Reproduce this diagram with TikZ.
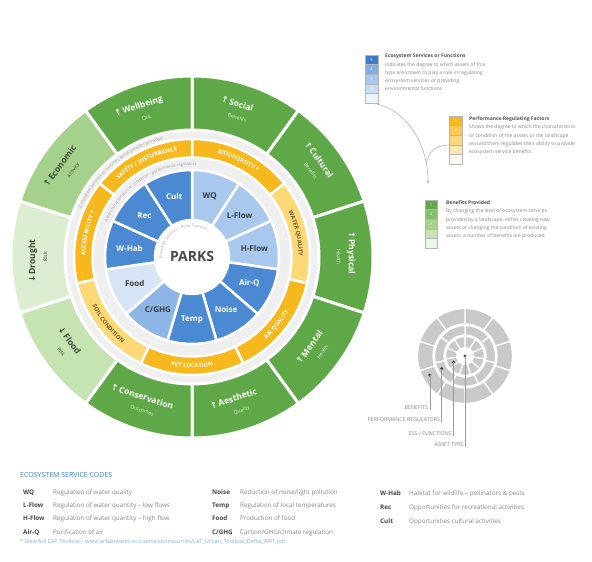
\documentclass[tikz,border=0pt]{standalone}
\usepackage{fontspec}
\setmainfont{Open Sans}
\newfontfamily\arrowfont{DejaVu Sans}
\usetikzlibrary{calc,decorations.text,arrows.meta}
\definecolor{gdark}{HTML}{5FA847}
\definecolor{gmid}{HTML}{A5D18C}
\definecolor{glight}{HTML}{C6E3B2}
\definecolor{gpale}{HTML}{DDEDD1}
\definecolor{gsubc}{HTML}{E2F1DA}
\definecolor{gtxt}{HTML}{3A4A35}
\definecolor{ydark}{HTML}{F6B81C}
\definecolor{ylight}{HTML}{FDD877}
\definecolor{ytxt}{HTML}{6B5A2A}
\definecolor{bmed}{HTML}{4B8AD2}
\definecolor{blight}{HTML}{A8C8EE}
\definecolor{bcg}{HTML}{8DB6E6}
\definecolor{bpale}{HTML}{D6E4F5}
\definecolor{btxt}{HTML}{3C3C3C}
\definecolor{ringgray}{HTML}{EFEFEF}
\definecolor{ringtext}{HTML}{A0A0A0}
\definecolor{parkc}{HTML}{474747}
\definecolor{legblue}{HTML}{3B7DC4}
\definecolor{footblue}{HTML}{86B2DC}
\definecolor{desc}{HTML}{858585}
\definecolor{codec}{HTML}{454545}
\definecolor{ttl}{HTML}{505050}
\definecolor{mini}{HTML}{C9C9C9}
\definecolor{dotc}{HTML}{4A4A4A}
\definecolor{leadc}{HTML}{9A9A9A}
\definecolor{connc}{HTML}{BDBDBD}
\definecolor{boxline}{HTML}{B5B5B5}
\definecolor{bs1}{HTML}{3D7CC9}\definecolor{bs2}{HTML}{7FAEE3}\definecolor{bs3}{HTML}{A8C8EE}\definecolor{bs4}{HTML}{C8DCF3}\definecolor{bs5}{HTML}{EEF3FA}
\definecolor{ys1}{HTML}{F6B81C}\definecolor{ys2}{HTML}{F9C84E}\definecolor{ys3}{HTML}{FBD77E}\definecolor{ys4}{HTML}{FCE6B0}\definecolor{ys5}{HTML}{FAF8F2}
\definecolor{gs1}{HTML}{5FA847}\definecolor{gs2}{HTML}{86BE6B}\definecolor{gs3}{HTML}{A8D08F}\definecolor{gs4}{HTML}{C8E2B6}\definecolor{gs5}{HTML}{EEF5EA}

\newcommand\annsec[6]{\path[#1] ($(#2)+(#5:#4)$) arc[start angle=#5,end angle=#6,radius=#4] -- ($(#2)+(#6:#3)$) arc[start angle=#6,end angle=#5,radius=#3] -- cycle;}
\newcommand\curvetext[6]{\path[decorate,decoration={text along path,text color=#5,text align=center,text={#6}}] ($(#1)+(#3:#2)$) arc[start angle=#3,end angle=#4,radius=#2];}
\newcommand\glabfont{\fontsize{8.5}{9.5}\selectfont\bfseries}
\newcommand\gsubfont{\fontsize{5}{6}\selectfont}
\newcommand\ylab{\fontsize{5.8}{6}\selectfont\bfseries}
\newcommand\blab{\fontsize{8}{9}\selectfont\bfseries}
\newcommand\rtext{\fontsize{4.3}{5}\selectfont}
\newcommand\gseg[9]{%
  \annsec{fill=#3,draw=white,line width=3pt}{C}{127}{181}{#1-18}{#1+18}
  \node[glabel,rotate=#2,text=#4] (#9) at ($(C)+(#1:154)$) {{\glabfont\llap{{\arrowfont\bfseries #6}\,}#7}\\{\gsubfont\color{#5}#8}};}
\newcommand\yseg[3]{\annsec{fill=#3,draw=white,line width=2.5pt}{C}{99.5}{118}{#1}{#2}}
\newcommand\bseg[5]{%
  \pgfmathsetmacro\bE{90-#1*360/11}%
  \pgfmathsetmacro\bS{\bE-360/11}%
  \pgfmathsetmacro\bM{\bE-180/11}%
  \annsec{fill=#2,draw=white,line width=2.5pt}{C}{37}{87}{\bS}{\bE}
  \node[text=#3,font=\blab,inner sep=0pt] (#5) at ($(C)+(\bM:63)$) {#4};}

\tikzset{
  glabel/.style={align=center,inner sep=0pt},
  lbox/.style={minimum width=12.5pt,minimum height=9.6pt,inner sep=0pt,draw=boxline,line width=0.4pt,font=\fontsize{3.5}{4}\selectfont,text=white},
  legtext/.style={anchor=north west,align=left,inner sep=0pt,font=\fontsize{5}{8.25}\selectfont,text=desc},
  conn/.style={draw=connc,line width=0.7pt},
  dotst/.style={circle,fill=dotc,inner sep=0pt,minimum size=3.4pt},
  leader/.style={draw=leadc,line width=0.5pt},
  minilab/.style={font=\fontsize{5.3}{6}\selectfont,text=desc,inner sep=0.6pt},
  ccode/.style={font=\fontsize{6.3}{7}\selectfont\bfseries,text=codec,anchor=base west,inner sep=0pt},
  cdesc/.style={font=\fontsize{6.3}{7}\selectfont,text=desc,anchor=base west,inner sep=0pt}
}

\begin{document}
\begin{tikzpicture}[x=1pt,y=1pt]
\useasboundingbox (0,0) rectangle (592,562);
\fill[white] (0,0) rectangle (592,562);
\coordinate (C) at (192,305);
\fill[ringgray,even odd rule] (C) circle[radius=129] (C) circle[radius=85];

% green benefits ring
\gseg{72}{-18}{gdark}{white}{gsubc}{↑}{Social}{Benefits}{gsocial}
\gseg{36}{-54}{gdark}{white}{gsubc}{↑}{Cultural}{Benefits}{gcultural}
\gseg{0}{-90}{gdark}{white}{gsubc}{↑}{Physical}{Health}{gphysical}
\gseg{-36}{54}{gdark}{white}{gsubc}{↑}{Mental}{Health}{gmental}
\gseg{-72}{18}{gdark}{white}{gsubc}{↑}{Aesthetic}{Quality}{gaesthetic}
\gseg{-108}{-18}{gdark}{white}{gsubc}{↑}{Conservation}{Outcomes}{gconservation}
\gseg{-144}{-54}{glight}{gtxt}{gtxt}{↓}{Flood}{Risk}{gflood}
\gseg{180}{90}{gpale}{gtxt}{gtxt}{↓}{Drought}{Risk}{gdrought}
\gseg{144}{54}{gmid}{gtxt}{gtxt}{↑}{Economic}{Activity}{geconomic}
\gseg{108}{18}{gdark}{white}{gsubc}{↑}{Wellbeing}{QoL}{gwellbeing}

% yellow regulators ring
\yseg{38.571}{90}{ydark}
\yseg{-12.857}{38.571}{ylight}
\yseg{-64.286}{-12.857}{ydark}
\yseg{-115.714}{-64.286}{ydark}
\yseg{-167.143}{-115.714}{ylight}
\yseg{141.429}{192.857}{ydark}
\yseg{90}{141.429}{ydark}
\curvetext{C}{106.7}{89.29}{39.29}{white}{|\ylab|BIODIVERSITY *}
\curvetext{C}{106.7}{37.86}{-12.14}{ytxt}{|\ylab|WATER QUALITY}
\curvetext{C}{110.8}{-63.57}{-13.57}{white}{|\ylab|AIR QUALITY}
\curvetext{C}{110.8}{-115}{-65}{white}{|\ylab|KEY LOCATION}
\curvetext{C}{110.8}{-166.43}{-116.43}{ytxt}{|\ylab|SOIL CONDITION}
\curvetext{C}{106.7}{192.14}{142.14}{white}{|\ylab|ACCESSIBILITY *}
\curvetext{C}{106.7}{141.2}{90.2}{white}{|\ylab|SAFETY / DISTURBANCE}

% blue functions ring
\bseg{0}{blight}{btxt}{WQ}{bwq}
\bseg{1}{blight}{btxt}{L-Flow}{blflow}
\bseg{2}{blight}{btxt}{H-Flow}{bhflow}
\bseg{3}{bmed}{white}{Air-Q}{bairq}
\bseg{4}{bmed}{white}{Noise}{bnoise}
\bseg{5}{bmed}{white}{Temp}{btemp}
\bseg{6}{bcg}{btxt}{C/GHG}{bcghg}
\bseg{7}{bpale}{btxt}{Food}{bfood}
\bseg{8}{bmed}{white}{W-Hab}{bwhab}
\bseg{9}{bmed}{white}{Rec}{brec}
\bseg{10}{bmed}{white}{Cult}{bcult}

\node[font=\fontsize{14}{16}\selectfont\bfseries,text=parkc] (parks) at (C) {PARKS};

% ring captions
\curvetext{C}{120.8}{165}{95}{ringtext}{|\rtext|Ecosystem services or natural capital benefits provided}
\curvetext{C}{91.6}{165}{80}{ringtext}{|\fontsize{4.1}{5}\selectfont|Asset characteristics or condition – performance regulators}
\curvetext{C}{30}{205}{40}{ringtext}{|\fontsize{3.8}{4.5}\selectfont|Ecosystem Services – Asset Function}

% right key
\foreach \i/\yy in {1/502.2,2/492.6,3/483,4/473.4,5/463.8}{
  \pgfmathtruncatemacro\nn{6-\i}
  \node[lbox,fill=bs\i] (bk\i) at (371.5,\yy) {\nn};}
\foreach \i/\yy in {1/441.2,2/431.6,3/422,4/412.4,5/402.8}{
  \pgfmathtruncatemacro\nn{6-\i}
  \node[lbox,fill=ys\i] (yk\i) at (455.5,\yy) {\nn};}
\foreach \i/\yy in {1/357.2,2/347.6,3/338,4/328.4,5/318.8}{
  \pgfmathtruncatemacro\nn{6-\i}
  \node[lbox,fill=gs\i] (gk\i) at (431,\yy) {\nn};}

\node[legtext] (bktext) at (385,508) {{\bfseries\color{ttl}Ecosystem Services or Functions}\\Indicates the degree to which assets of this\\type are known to play a role in regulating\\ecosystem services or providing\\environmental functions};
\node[legtext] (yktext) at (469,445.5) {{\bfseries\color{ttl}Performance Regulating Factors}\\Shows the degree to which the characteristics\\or condition of the assets or the landscape\\around them regulates their ability to provide\\ecosystem service benefits};
\node[legtext] (gktext) at (446,361.5) {{\bfseries\color{ttl}Benefits Provided}\\By changing the level of ecosystem services\\provided by a landscape, either creating new\\assets or changing the condition of existing\\assets, a number of benefits are produced.};

\coordinate (arrowend) at (428,378);
\draw[conn,-{Stealth[length=3.5pt,width=3pt]}] (bk5.south) .. controls (400,456) and (428,425) .. (arrowend) coordinate[pos=0.85] (merge);
\draw[conn] (yk3.south west) .. controls (436,417) and (428,410) .. (merge);

% mini key wheel
\coordinate (M) at (465,206);
\foreach \k in {0,...,9}{\annsec{fill=mini,draw=white,line width=1.3pt}{M}{32}{47.5}{54-36*\k}{90-36*\k}}
\foreach \k in {0,...,6}{\annsec{fill=mini,draw=white,line width=1.3pt}{M}{21}{30.5}{90-51.4286*\k-51.4286}{90-51.4286*\k}}
\foreach \k in {0,...,10}{\annsec{fill=mini,draw=white,line width=1.2pt}{M}{8.5}{19.5}{90-32.727*\k-32.727}{90-32.727*\k}}
\node[dotst] (dben) at ($(M)+(208.5:40)$) {};
\node[dotst] (dper) at ($(M)+(208.5:26.5)$) {};
\node[dotst] (dess) at ($(M)+(208.5:13)$) {};
\node[dotst] (dast) at (M) {};
\path (dben.center |- 0,152) ++(-1,0) node[minilab,anchor=south east] (lben) {BENEFITS};
\path (dper.center |- 0,140) ++(-1,0) node[minilab,anchor=south east] (lper) {PERFORMANCE REGULATORS};
\path (dess.center |- 0,126) ++(-1,0) node[minilab,anchor=south east] (less) {ESS / FUNCTIONS};
\path (dast.center |- 0,115) ++(-1,0) node[minilab,anchor=south east] (last) {ASSET TYPE};
\draw[leader] (dben.center) -- (dben.center |- lben.south);
\draw[leader] (dper.center) -- (dper.center |- lper.south);
\draw[leader] (dess.center) -- (dess.center |- less.south);
\draw[leader] (dast.center) -- (dast.center |- last.south);

% codes legend
\node[anchor=base west,inner sep=0pt,font=\fontsize{7}{8}\selectfont,text=legblue] (codeshead) at (20,84) {ECOSYSTEM SERVICE CODES};
\node[ccode] (c1) at (23,67.5) {WQ};      \node[cdesc] (d1) at (53,67.5) {Regulation of water quality};
\node[ccode] (c2) at (23,54.5) {L-Flow};  \node[cdesc] (d2) at (53,54.5) {Regulation of water quantity – low flows};
\node[ccode] (c3) at (23,41.5) {H-Flow};  \node[cdesc] (d3) at (53,41.5) {Regulation of water quantity – high flow};
\node[ccode] (c4) at (23,27.5) {Air-Q};   \node[cdesc] (d4) at (53,27.5) {Purification of air};
\node[ccode] (c5) at (212,67.5) {Noise};  \node[cdesc] (d5) at (240,67.5) {Reduction of noise/light pollution};
\node[ccode] (c6) at (212,54.5) {Temp};   \node[cdesc] (d6) at (240,54.5) {Regulation of local temperatures};
\node[ccode] (c7) at (212,41.5) {Food};   \node[cdesc] (d7) at (240,41.5) {Production of food};
\node[ccode] (c8) at (212,27.5) {C/GHG};  \node[cdesc] (d8) at (240,27.5) {Carbon/GHG/climate regulation};
\node[ccode] (c9) at (380,66.5) {W-Hab};  \node[cdesc] (d9) at (409,66.5) {Habitat for wildlife – pollinators \& pests};
\node[ccode] (c10) at (380,52.5) {Rec};   \node[cdesc] (d10) at (409,52.5) {Opportunities for recreational activities};
\node[ccode] (c11) at (380,38.5) {Cult};  \node[cdesc] (d11) at (409,38.5) {Opportunities cultural activities};
\node[anchor=base west,inner sep=0pt,font=\fontsize{5.6}{6}\selectfont,text=footblue] (foot) at (20,18) {* View full LAP Toolbox – www.urbanwater-eco.services/resources/LAT\_Urban\_Toolbox\_Defra\_WRT.pdf};
\end{tikzpicture}
\end{document}
